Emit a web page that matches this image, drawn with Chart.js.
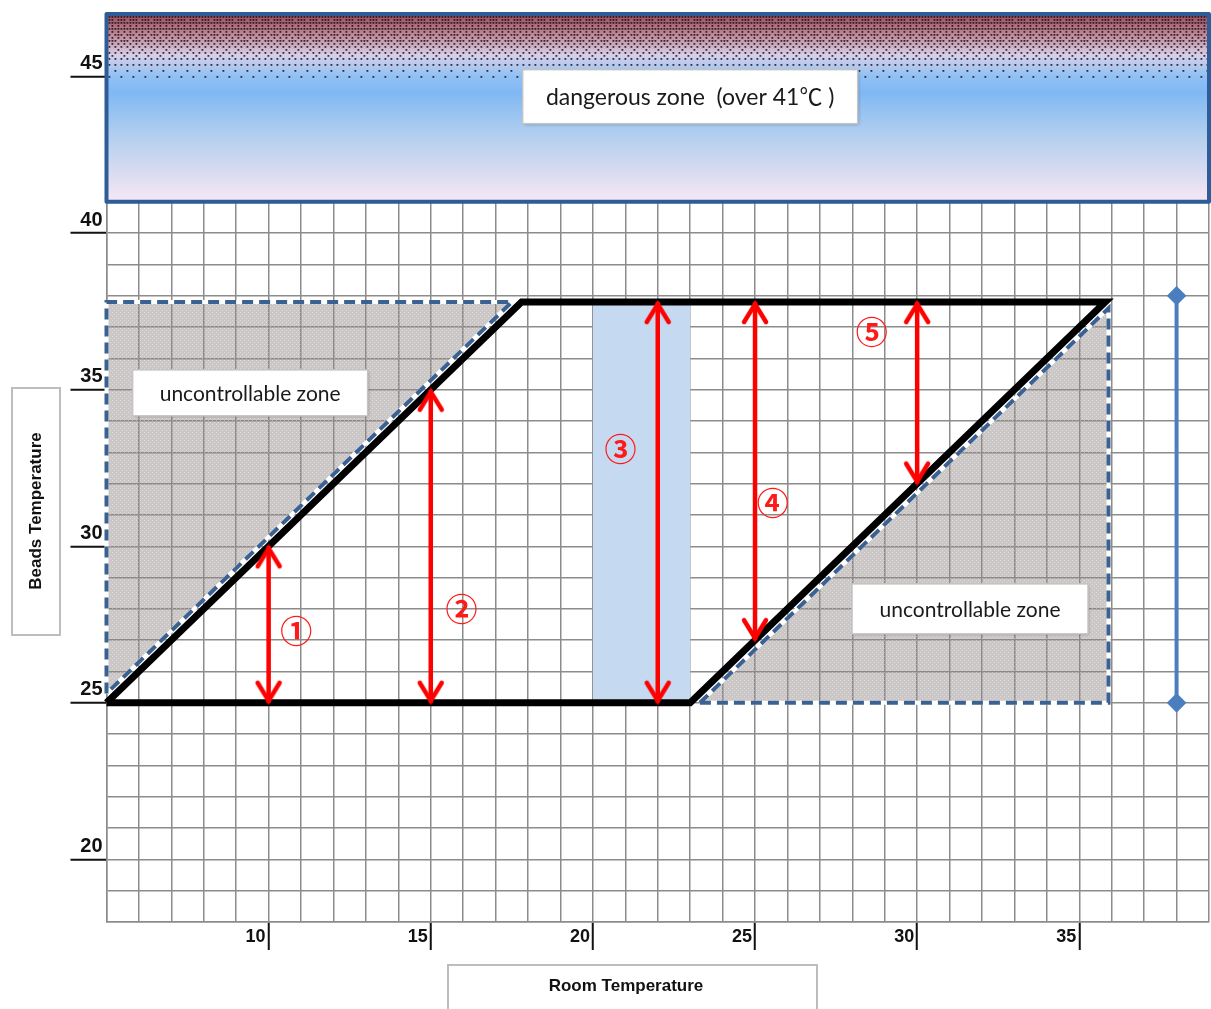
<!DOCTYPE html>
<html>
<head>
<meta charset="utf-8">
<title>Beads temperature vs room temperature</title>
<script src="https://cdn.jsdelivr.net/npm/chart.js@4.4.1/dist/chart.umd.min.js"></script>
<style>
  html, body { margin: 0; padding: 0; background: #fff; overflow: hidden; }
  #wrap { width: 1211px; height: 1009px; position: relative; }
  #wrap canvas { display: block; }
</style>
</head>
<body>
<div id="wrap"><canvas id="tempchart"></canvas></div>
<script>
// tick labels shown on the axes
const xLabelTicks = [10, 15, 20, 25, 30, 35];
const yLabelTicks = [20, 25, 30, 35, 40, 45];

// controllable range (black parallelogram)
const limitX = [5, 23, 35.8, 17.8, 5];
const limitY = [25, 25, 37.8, 37.8, 25];

// uncontrollable zones (dashed triangles)
const leftZoneX = [5, 5, 17.5, 5];
const leftZoneY = [25.3, 37.8, 37.8, 25.3];
const rightZoneX = [23.3, 35.9, 35.9, 23.3];
const rightZoneY = [25, 25, 37.6, 25];

// blue band between 20 and 23
const bandX = [20, 23, 23, 20, 20];
const bandY = [25, 25, 37.8, 37.8, 25];

// red double arrows
const arrowX = [10, 15, 22, 25, 30];
const arrowLow = [25, 25, 25, 27, 32];
const arrowHigh = [30, 35, 37.8, 37.8, 37.8];
const arrowTags = ['\u2460', '\u2461', '\u2462', '\u2463', '\u2464'];
const tagX = [10.85, 15.95, 20.85, 25.55, 28.6];
const tagY = [27.3, 28.0, 33.1, 31.4, 36.85];

// blue range marker on the right
const rangeX = [38, 38];
const rangeY = [25, 38];

const dangerFrom = 41;
const dangerText = 'dangerous zone  (over 41\u2103 )';
const dangerTextX = 23;
const dangerTextY = 44.36;
const zoneText = 'uncontrollable zone';
const zoneTextX = [9.43, 31.63];
const zoneTextY = [34.9, 28.0];

const pts = (xs, ys) => xs.map((x, i) => ({ x: x, y: ys[i] }));

const canvas = document.getElementById('tempchart');
const mainCtx = canvas.getContext('2d');

function grayPattern() {
  const c = document.createElement('canvas');
  c.width = 4; c.height = 4;
  const g = c.getContext('2d');
  g.fillStyle = 'rgba(140,130,130,0.45)';
  g.fillRect(0, 0, 4, 4);
  g.fillStyle = 'rgba(255,255,255,0.35)';
  g.fillRect(0, 0, 1, 1);
  g.fillRect(2, 2, 1, 1);
  return mainCtx.createPattern(c, 'repeat');
}

function chevron() {
  const c = document.createElement('canvas');
  c.width = 30; c.height = 56;
  const g = c.getContext('2d');
  g.strokeStyle = '#ff0000';
  g.lineWidth = 4.5;
  g.lineCap = 'round';
  g.beginPath();
  g.moveTo(4, 48);
  g.lineTo(15, 30);
  g.lineTo(26, 48);
  g.stroke();
  return c;
}
const arrowHead = chevron();

const datasets = [];

arrowX.forEach((x, i) => {
  datasets.push({
    data: pts([x, x], [arrowLow[i], arrowHigh[i]]),
    borderColor: '#ff0000',
    borderWidth: 4.5,
    pointStyle: arrowHead,
    pointRadius: 1,
    pointRotation: [180, 0],
    order: 1
  });
});

datasets.push({
  data: pts(limitX, limitY),
  borderColor: '#000',
  borderWidth: 7,
  borderJoinStyle: 'miter',
  pointRadius: 0,
  order: 2
});

datasets.push({
  data: pts(rangeX, rangeY),
  borderColor: '#4a7ebf',
  backgroundColor: '#4a7ebf',
  borderWidth: 4,
  pointStyle: 'rectRot',
  pointRadius: 7,
  order: 2
});

[[leftZoneX, leftZoneY], [rightZoneX, rightZoneY]].forEach(z => {
  datasets.push({
    data: pts(z[0], z[1]),
    borderColor: '#3b6193',
    borderWidth: 4,
    borderDash: [11, 6],
    pointRadius: 0,
    order: 3
  });
  datasets.push({
    data: pts(z[0], z[1]),
    borderColor: '#fff',
    borderWidth: 4,
    backgroundColor: grayPattern(),
    fill: 'shape',
    pointRadius: 0,
    order: 4
  });
});

datasets.push({
  data: pts(bandX, bandY),
  borderWidth: 0,
  borderColor: 'rgba(0,0,0,0)',
  backgroundColor: '#c5d9f1',
  fill: 'shape',
  pointRadius: 0,
  order: 6
});

function labelBox(ctx, cx, cy, w, h, text, font) {
  ctx.save();
  ctx.shadowColor = 'rgba(0,0,0,0.3)';
  ctx.shadowBlur = 3;
  ctx.shadowOffsetX = 1;
  ctx.shadowOffsetY = 1;
  ctx.fillStyle = '#fff';
  ctx.fillRect(cx - w / 2, cy - h / 2, w, h);
  ctx.restore();
  ctx.save();
  ctx.strokeStyle = '#c4c4c4';
  ctx.lineWidth = 1.5;
  ctx.strokeRect(cx - w / 2, cy - h / 2, w, h);
  ctx.fillStyle = '#1a1a1a';
  ctx.font = font;
  ctx.textAlign = 'center';
  ctx.textBaseline = 'middle';
  ctx.fillText(text, cx, cy + 1);
  ctx.restore();
}

const bayer = [[0, 8, 2, 10], [12, 4, 14, 6], [3, 11, 1, 9], [15, 7, 13, 5]];

const decor = {
  id: 'decor',
  beforeDatasetsDraw(chart) {
    const { ctx } = chart;
    const x = chart.scales.x, y = chart.scales.y;
    const l = x.getPixelForValue(x.min), r = x.getPixelForValue(x.max);
    const t = y.getPixelForValue(y.max), b = y.getPixelForValue(dangerFrom);
    ctx.save();
    const g = ctx.createLinearGradient(0, t, 0, b);
    g.addColorStop(0, '#9a4a5c');
    g.addColorStop(0.12, '#c38e9e');
    g.addColorStop(0.22, '#d6cfe8');
    g.addColorStop(0.33, '#90c1f4');
    g.addColorStop(0.42, '#80b8f4');
    g.addColorStop(0.65, '#b3cfee');
    g.addColorStop(0.85, '#dadcf1');
    g.addColorStop(1, '#f7e8f5');
    ctx.fillStyle = g;
    ctx.fillRect(l, t, r - l, b - t);
    // halftone dots at the top of the band
    ctx.fillStyle = 'rgba(30,18,26,0.85)';
    for (let j = 0; ; j++) {
      const py = t + 2 + j * 3;
      const d = 0.95 - (py - t) / 70;
      if (d <= 0) break;
      for (let i = 0; l + 2 + i * 3 < r - 2; i++) {
        if ((bayer[j % 4][i % 4] + 0.5) / 16 < d) {
          ctx.fillRect(l + 2 + i * 3, py, 1.8, 1.8);
        }
      }
    }
    ctx.strokeStyle = '#2e5c96';
    ctx.lineWidth = 4;
    ctx.lineJoin = 'round';
    ctx.strokeRect(l, t, r - l, b - t);
    ctx.restore();
  },
  afterDatasetsDraw(chart) {
    const { ctx } = chart;
    const x = chart.scales.x, y = chart.scales.y;
    labelBox(ctx, x.getPixelForValue(dangerTextX), y.getPixelForValue(dangerTextY), 335, 54, dangerText,
      '23px Lato, "Noto Sans CJK JP", sans-serif');
    labelBox(ctx, x.getPixelForValue(zoneTextX[0]), y.getPixelForValue(zoneTextY[0]), 235, 46, zoneText,
      '21px Lato, sans-serif');
    labelBox(ctx, x.getPixelForValue(zoneTextX[1]), y.getPixelForValue(zoneTextY[1]), 236, 50, zoneText,
      '21px Lato, sans-serif');
    ctx.save();
    ctx.fillStyle = '#ff1a1a';
    ctx.font = 'bold 32px "Noto Sans CJK JP", sans-serif';
    ctx.textAlign = 'center';
    ctx.textBaseline = 'middle';
    arrowTags.forEach((s, i) => {
      ctx.fillText(s, x.getPixelForValue(tagX[i]), y.getPixelForValue(tagY[i]));
    });
    ctx.restore();
  },
  afterDraw(chart) {
    const { ctx } = chart;
    ctx.save();
    ctx.strokeStyle = '#bdbdbd';
    ctx.lineWidth = 2;
    ctx.strokeRect(12, 388, 48, 247);
    ctx.strokeRect(448, 965, 369, 60);
    ctx.fillStyle = '#111';
    ctx.font = 'bold 17px "Liberation Sans", Arial, sans-serif';
    ctx.textAlign = 'center';
    ctx.textBaseline = 'middle';
    ctx.fillText('Room Temperature', 626, 986);
    ctx.translate(36, 511);
    ctx.rotate(-Math.PI / 2);
    ctx.fillText('Beads Temperature', 0, 0);
    ctx.restore();
  }
};

const tickFont = { family: '"Liberation Sans", Arial, sans-serif', weight: 'bold' };

const config = {
  type: 'line',
  data: { datasets },
  options: {
    responsive: true,
    maintainAspectRatio: false,
    animation: false,
    events: [],
    clip: false,
    layout: { autoPadding: false, padding: { top: 14, right: 2, left: 0, bottom: 0 } },
    plugins: {
      legend: { display: false },
      tooltip: { enabled: false }
    },
    elements: { line: { tension: 0 } },
    scales: {
      x: {
        type: 'linear',
        min: 5,
        max: 39,
        ticks: {
          stepSize: 1,
          autoSkip: false,
          maxRotation: 0,
          align: 'end',
          labelOffset: -3,
          padding: -24,
          color: '#111',
          font: Object.assign({ size: 18 }, tickFont),
          callback: v => xLabelTicks.includes(v) ? String(v) : ''
        },
        grid: {
          color: '#8c8c8c',
          lineWidth: 1.5,
          tickLength: 28,
          tickWidth: 2,
          tickColor: c => (c.tick && xLabelTicks.includes(c.tick.value)) ? '#111' : 'rgba(0,0,0,0)'
        },
        border: { color: '#8c8c8c', width: 1.5 },
        afterFit: s => { s.height = 87; s.paddingLeft = 0; s.paddingRight = 0; }
      },
      y: {
        type: 'linear',
        min: 18,
        max: 47,
        ticks: {
          stepSize: 1,
          autoSkip: false,
          padding: -32,
          labelOffset: -13,
          color: '#111',
          font: Object.assign({ size: 20 }, tickFont),
          callback: v => yLabelTicks.includes(v) ? String(v) : ''
        },
        grid: {
          color: '#8c8c8c',
          lineWidth: 1.5,
          tickLength: 36,
          tickWidth: 2,
          tickColor: c => (c.tick && yLabelTicks.includes(c.tick.value)) ? '#111' : 'rgba(0,0,0,0)'
        },
        border: { color: '#8c8c8c', width: 1.5 },
        afterFit: s => { s.width = 106.5; s.paddingTop = 0; s.paddingBottom = 0; }
      }
    }
  },
  plugins: [decor]
};

const tempChart = new Chart(canvas, config);
</script>
</body>
</html>
